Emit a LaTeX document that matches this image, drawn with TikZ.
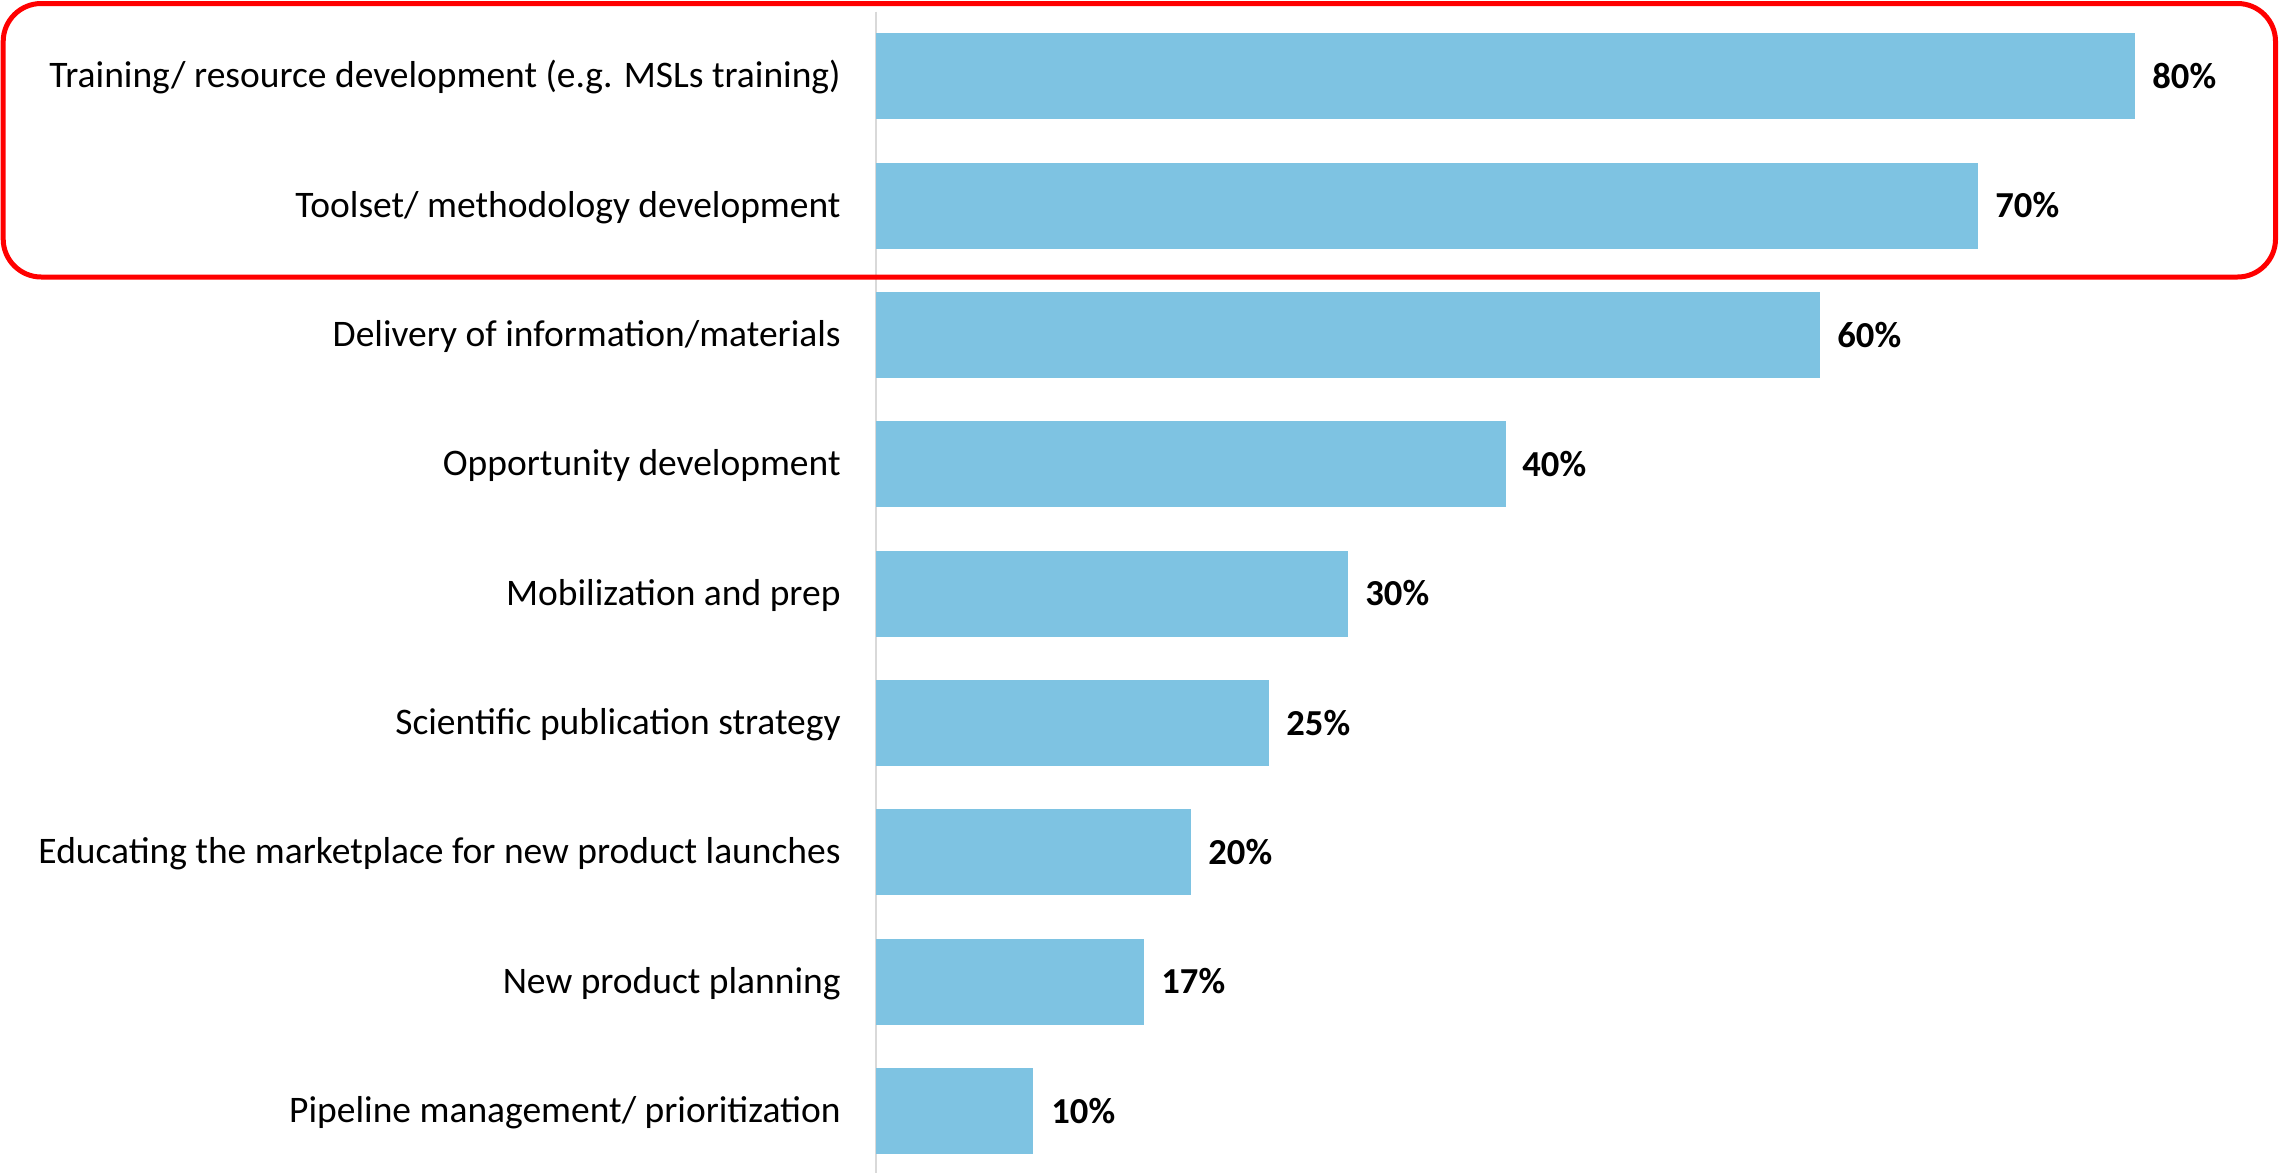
\documentclass[tikz,border=0pt]{standalone}
\usepackage{fontspec}
\setmainfont{Carlito}
\definecolor{barblue}{HTML}{7EC3E2}
\definecolor{axisgray}{HTML}{D9D9D9}
\definecolor{boxred}{HTML}{FF0000}
\tikzset{
  bar/.style={fill=barblue, draw=none},
  catlabel/.style={anchor=base east, inner sep=0pt, font=\fontsize{18.75}{21}\selectfont},
  vallabel/.style={anchor=base west, inner sep=0pt, font=\fontsize{18.3}{21}\selectfont\bfseries}
}
\begin{document}
\begin{tikzpicture}[x=0.5pt, y=-0.5pt]
	\useasboundingbox (0,0) rectangle (2279,1173);
	\draw[axisgray, line width=1.1pt] (876,11.6) -- (876,1173);

	\fill[bar] (876,33.3) rectangle (2135.0,119.3);
	\node[catlabel] (l1) at (841,87.8) {Training/ resource development (e.g. MSLs training)};
	\node[vallabel] (v1) at (2152,88.3) {80\%};

	\fill[bar] (876,162.6) rectangle (1977.6,248.6);
	\node[catlabel] (l2) at (841,217.1) {Toolset/ methodology development};
	\node[vallabel] (v2) at (1995,217.6) {70\%};

	\fill[bar] (876,292.0) rectangle (1820.3,378.0);
	\node[catlabel] (l3) at (841,346.5) {Delivery of information/materials};
	\node[vallabel] (v3) at (1837,347.0) {60\%};

	\fill[bar] (876,421.3) rectangle (1505.5,507.3);
	\node[catlabel] (l4) at (841,475.8) {Opportunity development};
	\node[vallabel] (v4) at (1522,476.3) {40\%};

	\fill[bar] (876,550.7) rectangle (1348.1,636.7);
	\node[catlabel] (l5) at (841,605.2) {Mobilization and prep};
	\node[vallabel] (v5) at (1365,605.7) {30\%};

	\fill[bar] (876,680.0) rectangle (1269.4,766.0);
	\node[catlabel] (l6) at (841,734.5) {Scientific publication strategy};
	\node[vallabel] (v6) at (1286,735.0) {25\%};

	\fill[bar] (876,809.3) rectangle (1190.7,895.3);
	\node[catlabel] (l7) at (841,863.8) {Educating the marketplace for new product launches};
	\node[vallabel] (v7) at (1208,864.3) {20\%};

	\fill[bar] (876,938.7) rectangle (1143.5,1024.7);
	\node[catlabel] (l8) at (841,993.2) {New product planning};
	\node[vallabel] (v8) at (1161,993.7) {17\%};

	\fill[bar] (876,1068.0) rectangle (1033.4,1154.0);
	\node[catlabel] (l9) at (841,1122.5) {Pipeline management/ prioritization};
	\node[vallabel] (v9) at (1051,1123.0) {10\%};

	\draw[boxred, line width=2.5pt, rounded corners=19pt] (3.2,3.5) rectangle (2275.5,277);
\end{tikzpicture}
\end{document}
